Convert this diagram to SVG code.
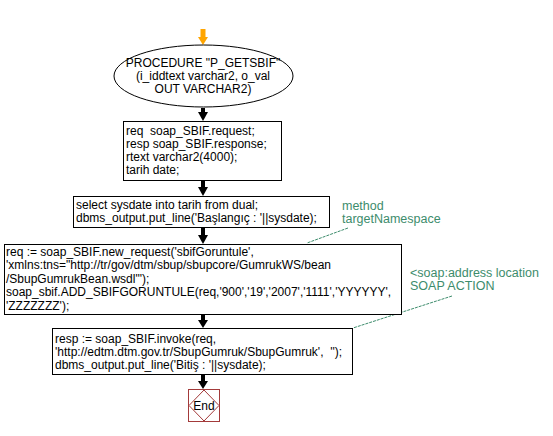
<svg xmlns="http://www.w3.org/2000/svg" width="553" height="436" viewBox="0 0 553 436">
<style>
.box{fill:#fff;stroke:#000;stroke-width:1}
.t{font-family:"Liberation Sans",Arial,sans-serif;font-size:12px;fill:#000;white-space:pre}
.tc{font-family:"Liberation Sans",Arial,sans-serif;font-size:12px;fill:#000;text-anchor:middle}
.note{font-family:"Liberation Sans",Arial,sans-serif;font-size:12.5px;fill:#3d8c6c}
.nl{stroke:#3d8c6c;stroke-width:1;fill:none;stroke-dasharray:3,1}
.c{stroke:#000;stroke-width:4;fill:none}
</style>
<rect width="553" height="436" fill="#fff"/>
<g id="connectors">
<path d="M203,29 L203,38" stroke="#ffa500" stroke-width="5"/>
<path d="M198,37 L208,37 L203,45 Z" fill="#ffa500"/>
<path class="c" d="M203,108 L203,114"/><path d="M198,112 L208,112 L203,121 Z"/>
<path class="c" d="M203,181 L203,188"/><path d="M198,187 L208,187 L203,196 Z"/>
<path class="c" d="M203,228 L203,236"/><path d="M198,235 L208,235 L203,244 Z"/>
<path class="c" d="M203,315 L203,321"/><path d="M198,320 L208,320 L203,328 Z"/>
<path class="c" d="M203,375 L203,382"/><path d="M198,381 L208,381 L203,389 Z"/>
<path class="nl" d="M348,228 L307,243"/>
<path class="nl" d="M452,296 L353,328"/>
</g>
<g id="start">
<ellipse cx="203.5" cy="76" rx="89.5" ry="31" fill="#fff" stroke="#000"/>
<text class="tc" x="203" y="67">PROCEDURE "P_GETSBIF"</text>
<text class="tc" x="203" y="80">(i_iddtext varchar2, o_val</text>
<text class="tc" x="203" y="93">OUT VARCHAR2)</text>
</g>
<g id="decl">
<rect class="box" x="123.5" y="121.5" width="158" height="59"/>
<text class="t" x="126" y="135">req  soap_SBIF.request;</text>
<text class="t" x="126" y="148">resp soap_SBIF.response;</text>
<text class="t" x="126" y="161">rtext varchar2(4000);</text>
<text class="t" x="126" y="174">tarih date;</text>
</g>
<g id="select">
<rect class="box" x="73.5" y="196.5" width="256" height="31"/>
<text class="t" x="76" y="209">select sysdate into tarih from dual;</text>
<text class="t" x="76" y="222">dbms_output.put_line('Başlangıç : '||sysdate);</text>
</g>
<g id="request">
<rect class="box" x="4.5" y="244.5" width="397" height="70"/>
<text class="t" x="6" y="256">req := soap_SBIF.new_request('sbifGoruntule',</text>
<text class="t" x="6" y="269">'xmlns:tns="http://tr/gov/dtm/sbup/sbupcore/GumrukWS/bean</text>
<text class="t" x="6" y="283">/SbupGumrukBean.wsdl"');</text>
<text class="t" x="6" y="296">soap_sbif.ADD_SBIFGORUNTULE(req,'900','19','2007','1111','YYYYYY',</text>
<text class="t" x="6" y="310">'ZZZZZZZ');</text>
</g>
<g id="invoke">
<rect class="box" x="52.5" y="328.5" width="300" height="46"/>
<text class="t" x="55" y="343">resp := soap_SBIF.invoke(req,</text>
<text class="t" x="55" y="356">'http://edtm.dtm.gov.tr/SbupGumruk/SbupGumruk',  '');</text>
<text class="t" x="55" y="369">dbms_output.put_line('Bitiş : '||sysdate);</text>
</g>
<g id="end">
<rect x="188.5" y="389.5" width="31" height="32" fill="#fff" stroke="#a33a3a"/>
<path d="M204,390 L219,405.5 L204,421 L189,405.5 Z" fill="none" stroke="#a33a3a"/>
<text class="tc" x="204" y="410" style="font-size:12px">End</text>
</g>
<g id="note1">
<text class="note" x="342" y="210">method</text>
<text class="note" x="342" y="223">targetNamespace</text>
</g>
<g id="note2">
<text class="note" x="410" y="277">&lt;soap:address location</text>
<text class="note" x="410" y="290">SOAP ACTION</text>
</g>
</svg>
